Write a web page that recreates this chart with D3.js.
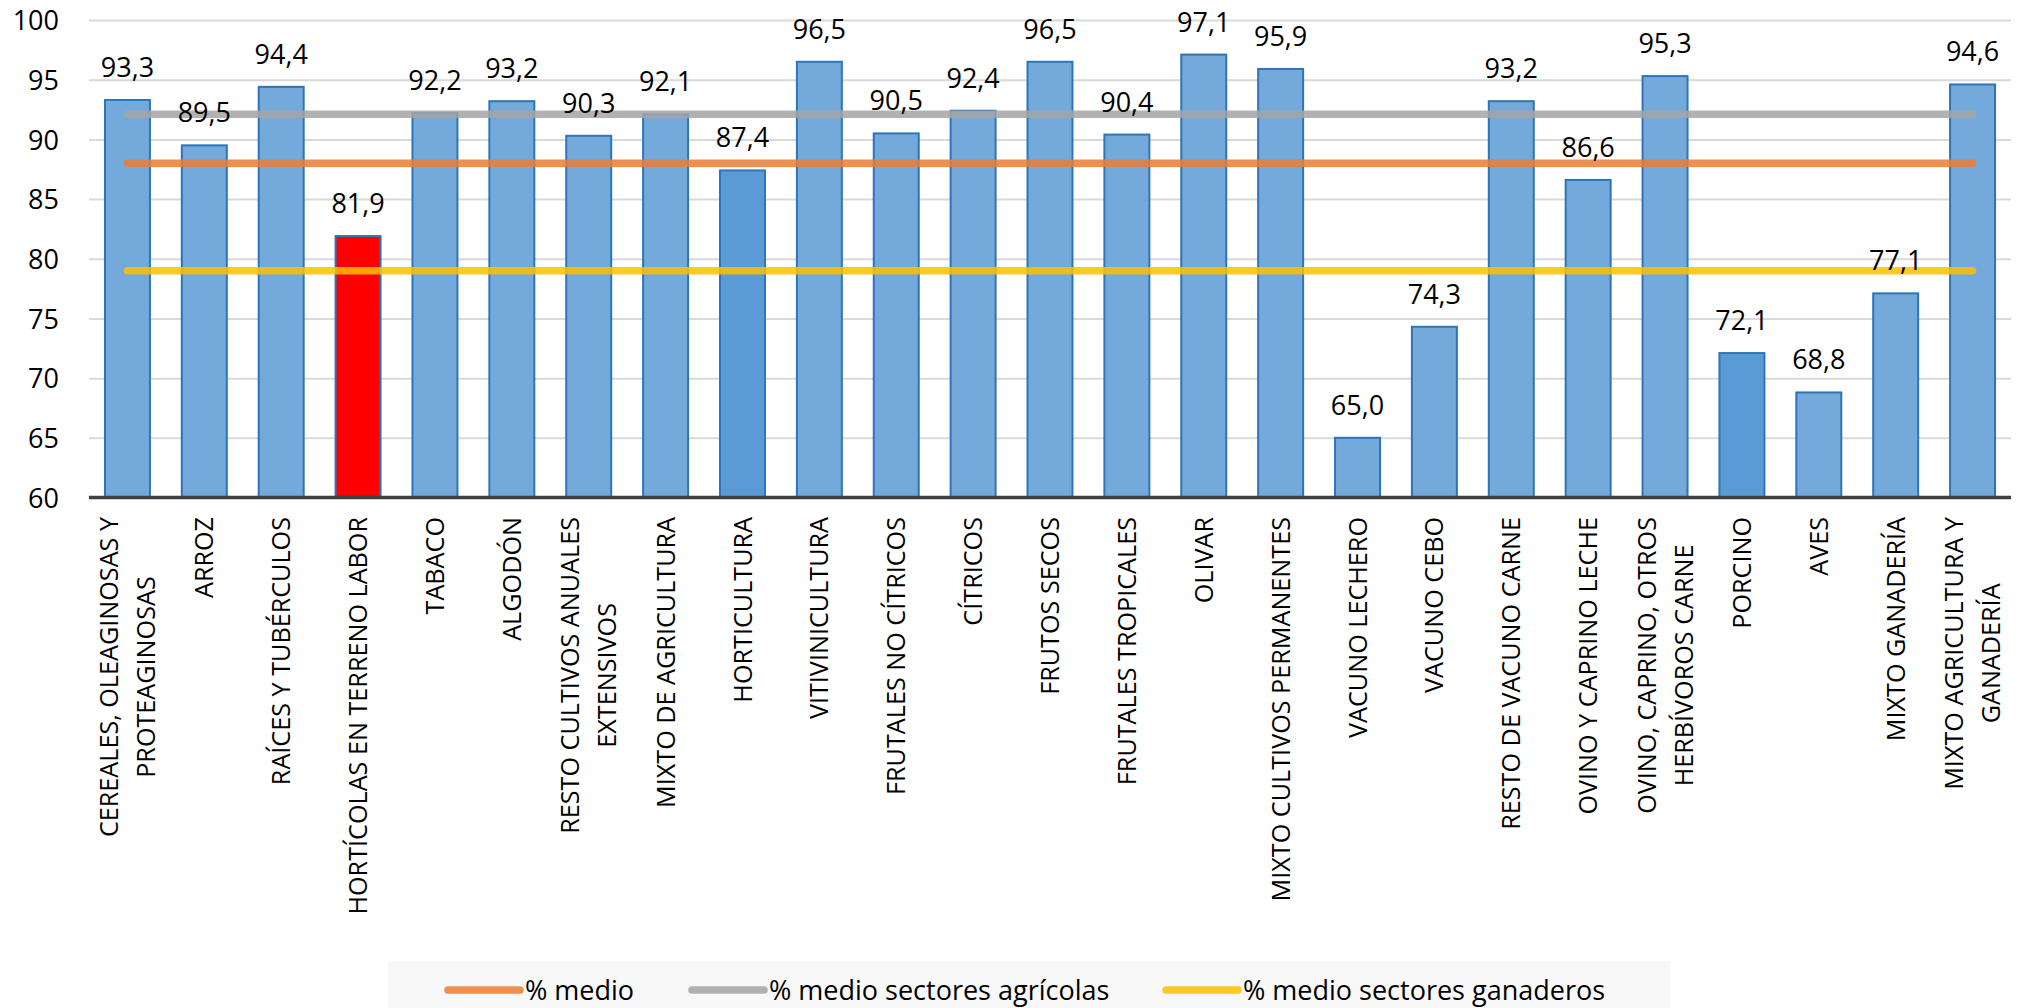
<!DOCTYPE html>
<html><head><meta charset="utf-8">
<script src="https://cdn.jsdelivr.net/npm/d3@7"></script>
<style>
body{margin:0;background:#fff;}
svg{display:block;font-family:"Open Sans",sans-serif;}
</style>
</head><body>
<svg id="c" width="2025" height="1008"></svg>
<script>
// ---- data ----
const categories = [
  "CEREALES,  OLEAGINOSAS Y\nPROTEAGINOSAS",
  "ARROZ",
  "RAÍCES Y TUBÉRCULOS",
  "HORTÍCOLAS EN TERRENO LABOR",
  "TABACO",
  "ALGODÓN",
  "RESTO CULTIVOS ANUALES\nEXTENSIVOS",
  "MIXTO DE AGRICULTURA",
  "HORTICULTURA",
  "VITIVINICULTURA",
  "FRUTALES NO CÍTRICOS",
  "CÍTRICOS",
  "FRUTOS SECOS",
  "FRUTALES TROPICALES",
  "OLIVAR",
  "MIXTO CULTIVOS PERMANENTES",
  "VACUNO LECHERO",
  "VACUNO CEBO",
  "RESTO DE VACUNO CARNE",
  "OVINO Y CAPRINO LECHE",
  "OVINO,  CAPRINO, OTROS\nHERBÍVOROS CARNE",
  "PORCINO",
  "AVES",
  "MIXTO GANADERÍA",
  "MIXTO AGRICULTURA Y\nGANADERÍA"
];
const values = [93.3, 89.5, 94.4, 81.9, 92.2, 93.2, 90.3, 92.1, 87.4, 96.5, 90.5, 92.4, 96.5, 90.4, 97.1, 95.9, 65.0, 74.3, 93.2, 86.6, 95.3, 72.1, 68.8, 77.1, 94.6];
const highlightedCategory = "HORTÍCOLAS EN TERRENO LABOR";
const darkerCategories = ["HORTICULTURA", "PORCINO"];
const avgNames = ["% medio", "% medio sectores agrícolas", "% medio sectores ganaderos"];
const avgValues = [88.0, 92.1, 79.0];
const yTicks = [60, 65, 70, 75, 80, 85, 90, 95, 100];

// ---- styles ----
const avgColors = ["#ED7D31", "#A5A5A5", "#FFC000"];
const svg = d3.select("#c");
const pLeft = 89, pRight = 2011, pTop = 20, pBottom = 497.5;

const x = d3.scaleBand(categories, [pLeft, pRight]).paddingInner(0.415).paddingOuter(0.2075);
const y = d3.scaleLinear([60, 100], [pBottom, pTop]);
const fmt = v => d3.format(".1f")(v).replace(".", ",");

// gridlines
const yAxis = d3.axisLeft(y).tickValues(yTicks.slice(1)).tickSize(-(pRight - pLeft)).tickFormat("");
const gGrid = svg.append("g").attr("transform", `translate(${pLeft},0)`).call(yAxis);
gGrid.select(".domain").remove();
gGrid.selectAll(".tick line").attr("stroke", "#D9D9D9").attr("stroke-width", 2);

// tick labels
const yLab = d3.axisLeft(y).tickValues(yTicks).tickSize(0).tickPadding(0);
const gLab = svg.append("g").attr("transform", `translate(59,0)`).call(yLab);
gLab.select(".domain").remove();
gLab.selectAll(".tick text").attr("font-size", 27).attr("font-family", "Open Sans").attr("fill", "#000").attr("dy", "0.36em");

// bars
svg.append("g").selectAll("rect").data(categories).join("rect")
  .attr("x", d => x(d))
  .attr("width", x.bandwidth())
  .attr("y", (d, i) => y(values[i]))
  .attr("height", (d, i) => pBottom - y(values[i]))
  .attr("fill", d => d === highlightedCategory ? "#FF0000" : (darkerCategories.includes(d) ? "#5B9BD5" : "#74AADB"))
  .attr("stroke", "#2E75B6").attr("stroke-width", 2);

// x axis line
svg.append("line").attr("x1", pLeft).attr("x2", pRight).attr("y1", pBottom).attr("y2", pBottom)
  .attr("stroke", "#404040").attr("stroke-width", 3.5);

// average lines
const xc = d => x(d) + x.bandwidth() / 2;
const first = categories[0], last = categories[categories.length - 1];
svg.append("g").selectAll("line").data(avgValues).join("line")
  .attr("x1", xc(first)).attr("x2", xc(last))
  .attr("y1", d => y(d)).attr("y2", d => y(d))
  .attr("stroke", (d, i) => avgColors[i]).attr("stroke-opacity", 0.85)
  .attr("stroke-width", 7.5).attr("stroke-linecap", "round");

// data labels
svg.append("g").selectAll("text").data(categories).join("text")
  .attr("x", d => xc(d))
  .attr("y", (d, i) => y(values[i]) - 23)
  .attr("text-anchor", "middle")
  .attr("font-size", 27).attr("fill", "#000")
  .text((d, i) => fmt(values[i]));

// category labels
const labelTop = 517, lineGap = 37;
const gCat = svg.append("g");
categories.forEach(c => {
  const lines = c.split("\n");
  const g = gCat.append("g");
  const texts = lines.map((ln, j) => g.append("text")
    .attr("text-anchor", "middle")
    .attr("font-size", 25.2).attr("fill", "#000")
    .attr("dy", "0.36em")
    .attr("x", 0)
    .attr("y", (j - (lines.length - 1) / 2) * lineGap)
    .text(ln));
  const maxLen = d3.max(texts, t => t.node().getComputedTextLength());
  g.attr("transform", `translate(${xc(c)},${labelTop + maxLen / 2}) rotate(-90)`);
});

// legend
const legX = 388, legY = 961;
svg.append("rect").attr("x", legX).attr("y", legY).attr("width", 1670 - legX).attr("height", 1008 - legY).attr("fill", "#F8F8F8");
const legLineX = [448, 692, 1166];
const lg = svg.append("g").selectAll("g").data(avgNames).join("g");
lg.append("line")
  .attr("x1", (d, i) => legLineX[i]).attr("x2", (d, i) => legLineX[i] + 72)
  .attr("y1", 990).attr("y2", 990)
  .attr("stroke", (d, i) => avgColors[i]).attr("stroke-opacity", 0.85)
  .attr("stroke-width", 7.5).attr("stroke-linecap", "round");
lg.append("text")
  .attr("x", (d, i) => legLineX[i] + 77).attr("y", 990).attr("dy", "0.36em")
  .attr("font-size", 27).attr("fill", "#000")
  .text(d => d);
</script>
</body></html>
